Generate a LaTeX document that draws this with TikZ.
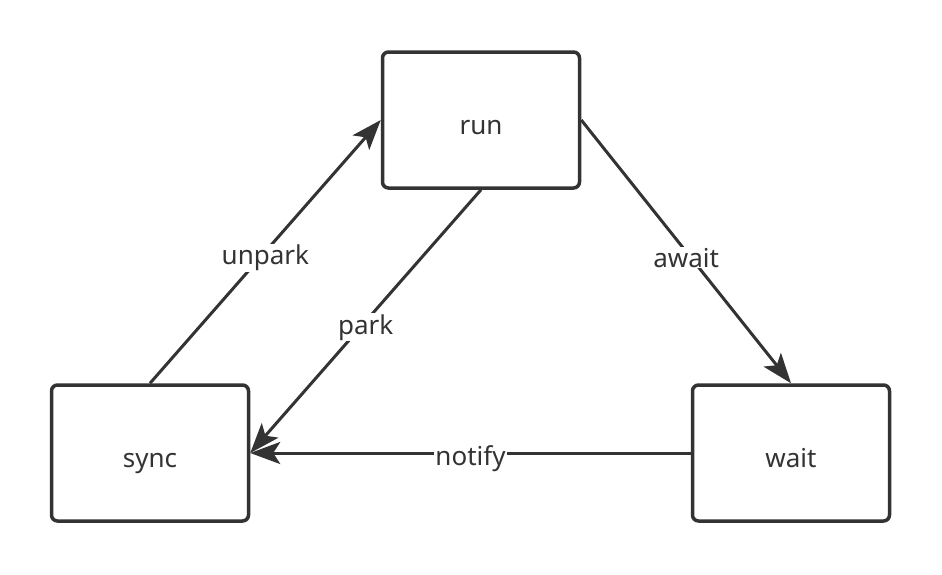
\documentclass[tikz,border=0pt]{standalone}
\usepackage{fontspec}
\setmainfont{Noto Sans}
\usetikzlibrary{arrows.meta}
\definecolor{ink}{HTML}{333333}

\begin{document}
\begin{tikzpicture}[x=1pt,y=-1pt,
  state/.style={draw=ink,line width=3.5pt,rounded corners=6pt,minimum width=197pt,minimum height=136pt,inner sep=0pt,text=ink,text height=28pt,text depth=0pt,font=\fontsize{26}{30}\selectfont},
  trans/.style={draw=ink,line width=3pt,-{Stealth[length=30pt,width=22pt,inset=7pt]}},
  lbl/.style={fill=white,text=ink,inner sep=1pt,yshift=-6pt,font=\fontsize{26}{30}\selectfont}]
\useasboundingbox (0,0) rectangle (942,574);
\node[state] (run) at (481,120) {run};
\node[state] (sync) at (150,453) {sync};
\node[state] (wait) at (791,453) {wait};

\draw[trans] (sync.north) -- (run.west) node[lbl,pos=.5]{unpark};
\draw[trans] (run.south) -- (sync.east) node[lbl,pos=.5]{park};
\draw[trans] (run.east) -- (wait.north) node[lbl,pos=.5]{await};
\draw[trans] (wait.west) -- (sync.east) node[lbl,pos=.5]{notify};
\end{tikzpicture}
\end{document}
